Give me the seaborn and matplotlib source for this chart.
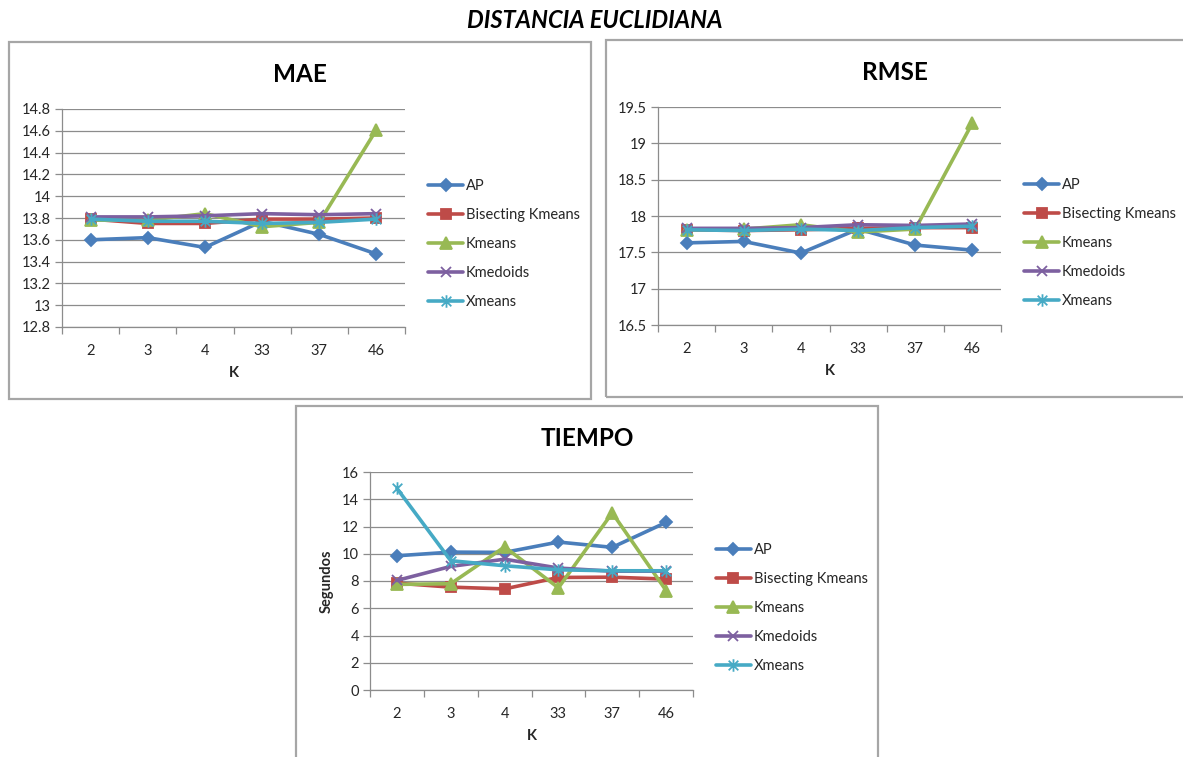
import numpy as np
import pandas as pd
import matplotlib
matplotlib.use("Agg")
import matplotlib.pyplot as plt
import seaborn as sns
from matplotlib.path import Path
from matplotlib.patches import Rectangle
from matplotlib.ticker import FuncFormatter, MultipleLocator, FixedLocator

# ---- data -------------------------------------------------------------
k_values = ["2", "3", "4", "33", "37", "46"]
methods = ["AP", "Bisecting Kmeans", "Kmeans", "Kmedoids", "Xmeans"]

mae_ap = [13.60, 13.62, 13.53, 13.77, 13.65, 13.47]
mae_bisecting = [13.79, 13.75, 13.75, 13.79, 13.79, 13.80]
mae_kmeans = [13.78, 13.78, 13.84, 13.72, 13.76, 14.61]
mae_kmedoids = [13.81, 13.81, 13.82, 13.84, 13.83, 13.84]
mae_xmeans = [13.79, 13.77, 13.77, 13.75, 13.76, 13.79]

rmse_ap = [17.63, 17.65, 17.49, 17.82, 17.60, 17.53]
rmse_bisecting = [17.81, 17.80, 17.81, 17.83, 17.84, 17.84]
rmse_kmeans = [17.81, 17.82, 17.88, 17.78, 17.82, 19.28]
rmse_kmedoids = [17.83, 17.83, 17.84, 17.88, 17.87, 17.89]
rmse_xmeans = [17.81, 17.80, 17.82, 17.80, 17.84, 17.86]

time_ap = [9.85, 10.12, 10.10, 10.86, 10.47, 12.30]
time_bisecting = [7.84, 7.55, 7.42, 8.26, 8.28, 8.14]
time_kmeans = [7.75, 7.80, 10.50, 7.50, 13.00, 7.30]
time_kmedoids = [8.04, 9.07, 9.60, 8.95, 8.72, 8.72]
time_xmeans = [14.80, 9.49, 9.12, 8.82, 8.75, 8.75]

# ---- styling ----------------------------------------------------------
sns.set_theme(style="white")
plt.rcParams["font.family"] = ["Lato", "DejaVu Sans"]

palette = {
    "AP": "#4A7EBB",
    "Bisecting Kmeans": "#BE4B48",
    "Kmeans": "#98B954",
    "Kmedoids": "#7D60A0",
    "Xmeans": "#46AAC5",
}

# asterisk: an "x" crossed by a vertical bar
star_path = Path(
    [(-1, -1), (1, 1), (-1, 1), (1, -1), (0, -1.3), (0, 1.3)],
    [Path.MOVETO, Path.LINETO, Path.MOVETO, Path.LINETO, Path.MOVETO, Path.LINETO],
)
markers = {
    "AP": ("D", 6.5),
    "Bisecting Kmeans": ("s", 7),
    "Kmeans": ("^", 8),
    "Kmedoids": ("x", 7.5),
    "Xmeans": (star_path, 9),
}

grid_color = "#8C8C8C"
text_color = "#262626"


def fmt(v, _):
    return f"{round(v, 2):g}"


def excel_chart(ax, series, title, ylim, ystep, ylabel=None, title_xy=None, legend_xy=None):
    for name, vals in zip(methods, series):
        df = pd.DataFrame({"K": k_values, "valor": vals})
        mk, ms = markers[name]
        sns.lineplot(
            data=df, x="K", y="valor", sort=False, ax=ax,
            color=palette[name], label=name,
            linewidth=2.6, marker=mk, markersize=ms,
            markeredgecolor=palette[name], markeredgewidth=1.3,
        )
    ax.set_xlim(-0.5, len(k_values) - 0.5)
    ax.set_ylim(*ylim)
    ax.yaxis.set_major_locator(MultipleLocator(ystep))
    ax.yaxis.set_major_formatter(FuncFormatter(fmt))
    ax.grid(axis="y", color=grid_color, linewidth=0.9)
    ax.grid(axis="x", visible=False)
    ax.set_axisbelow(True)
    for side in ("top", "right"):
        ax.spines[side].set_visible(False)
    for side in ("left", "bottom"):
        ax.spines[side].set_visible(True)
        ax.spines[side].set_color(grid_color)
        ax.spines[side].set_linewidth(0.9)
    # category boundaries carry the tick marks, labels sit between them
    ax.xaxis.set_minor_locator(FixedLocator(np.arange(-0.5, len(k_values), 1.0)))
    ax.tick_params(axis="x", which="major", length=0, pad=12,
                   labelsize=10.5, labelcolor=text_color)
    ax.tick_params(axis="x", which="minor", length=5, width=0.9,
                   color=grid_color, direction="out", bottom=True)
    ax.tick_params(axis="y", which="major", length=5, width=0.9,
                   color=grid_color, direction="out", left=True,
                   labelsize=10.5, labelcolor=text_color, pad=3)
    ax.set_xlabel("K", fontsize=10.5, fontweight="bold", color=text_color, labelpad=6)
    if ylabel:
        ax.set_ylabel(ylabel, fontsize=10.5, fontweight="bold", color=text_color, labelpad=6)
    else:
        ax.set_ylabel("")
    fig = ax.figure
    fig.text(title_xy[0] / 1183, 1 - title_xy[1] / 757, title,
             fontsize=17.5, fontweight="bold", color="black",
             ha="center", va="center")
    sns.move_legend(
        ax, loc="center left",
        bbox_to_anchor=(legend_xy[0] / 1183, 1 - legend_xy[1] / 757),
        bbox_transform=fig.transFigure,
        frameon=False, title=None, fontsize=10.5,
        handlelength=2.4, handletextpad=0.2, labelspacing=1.02,
        borderaxespad=0, borderpad=0,
    )


fig = plt.figure(figsize=(11.83, 7.57), dpi=100)
fig.patch.set_facecolor("white")

# chart frames
frame_kw = dict(transform=None, fill=False, edgecolor="#A6A6A6", linewidth=1.6)
for x0, y0, x1, y1 in [(9, 42, 591, 399), (606, 40, 1190, 397), (296, 406, 878, 770)]:
    fig.patches.append(Rectangle((x0, 757 - y1), x1 - x0, y1 - y0, **frame_kw))

ax_mae = fig.add_axes([62 / 1183, 1 - 327 / 757, 343 / 1183, 218 / 757])
ax_rmse = fig.add_axes([658 / 1183, 1 - 325 / 757, 343 / 1183, 218 / 757])
ax_time = fig.add_axes([370 / 1183, 1 - 690 / 757, 323 / 1183, 218 / 757])

excel_chart(ax_mae, [mae_ap, mae_bisecting, mae_kmeans, mae_kmedoids, mae_xmeans],
            "MAE", (12.8, 14.8), 0.2, title_xy=(300, 74), legend_xy=(428, 244))
excel_chart(ax_rmse, [rmse_ap, rmse_bisecting, rmse_kmeans, rmse_kmedoids, rmse_xmeans],
            "RMSE", (16.5, 19.5), 0.5, title_xy=(895, 72), legend_xy=(1024, 243))
excel_chart(ax_time, [time_ap, time_bisecting, time_kmeans, time_kmedoids, time_xmeans],
            "TIEMPO", (0, 16), 2, ylabel="Segundos", title_xy=(587, 438), legend_xy=(716, 608))

fig.text(595 / 1183, 1 - 20 / 757, "DISTANCIA EUCLIDIANA", fontsize=17,
         fontweight="bold", fontstyle="italic", color="black", ha="center", va="center")

fig.savefig("out.png", dpi=100, facecolor="white")
